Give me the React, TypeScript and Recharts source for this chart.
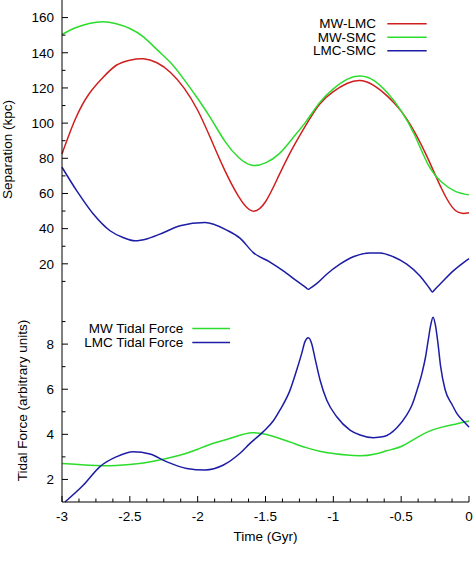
import { LineChart, Line, XAxis, YAxis, Legend, Label } from 'recharts';

const FONT = '"Liberation Sans", Arial, Helvetica, sans-serif';
const RED = '#d01e1e';
const GREEN = '#2cdc2c';
const BLUE = '#1c1ca6';

// ---- top panel: separation (kpc) vs time (Gyr)
// smooth orbits read on an even 0.1 Gyr grid
const gridTime = [-3, -2.9, -2.8, -2.7, -2.6, -2.5, -2.4, -2.3, -2.2, -2.1, -2, -1.9, -1.8, -1.7, -1.6, -1.5, -1.4, -1.3, -1.2, -1.1, -1, -0.9, -0.8, -0.7, -0.6, -0.5, -0.4, -0.3, -0.2, -0.1, 0];
const mwLmcSep = [82.5, 102.6, 116.7, 125.8, 132.9, 135.8, 136.6, 134.3, 128.8, 119.9, 107.3, 90.5, 73.1, 58.5, 50.1, 55.3, 70.4, 85.8, 99.2, 110.9, 117.9, 122.5, 124.2, 121.3, 115.2, 106.8, 94.8, 79.4, 62.4, 50.3, 49.0];
const mwSmcSep = [150.4, 154.2, 156.6, 157.6, 156.5, 153.8, 149.0, 141.8, 134.4, 124.7, 114.0, 102.3, 89.8, 80.6, 76.0, 77.4, 82.5, 91.4, 101.0, 111.8, 119.5, 124.9, 126.8, 124.2, 117.1, 107.0, 93.1, 76.3, 66.4, 61.2, 59.2];

// LMC-SMC has sharp pericentre cusps, so it is read at uneven times
const lmcSmcTime = [-3, -2.892, -2.769, -2.646, -2.55, -2.462, -2.37, -2.278, -2.13, -1.946, -1.786, -1.688, -1.59, -1.467, -1.369, -1.27, -1.204, -1.184, -1.164, -1.123, -1.049, -0.951, -0.853, -0.73, -0.656, -0.558, -0.459, -0.361, -0.29, -0.27, -0.25, -0.214, -0.116, 0];
const lmcSmcSep = [74.9, 61.6, 48.3, 38.8, 35.0, 33.1, 34.3, 36.9, 41.6, 43.5, 39.2, 34.6, 26.4, 21.0, 16.0, 10.3, 6.6, 5.5, 6.5, 8.7, 14.1, 19.8, 24.0, 26.2, 26.2, 24.0, 19.8, 13.1, 6.0, 4.0, 5.6, 8.4, 16.0, 23.0];

// ---- bottom panel: tidal force (arbitrary units)
const mwTide = [2.71, 2.67, 2.63, 2.61, 2.62, 2.66, 2.73, 2.84, 2.97, 3.13, 3.34, 3.57, 3.75, 3.94, 4.07, 4.0, 3.83, 3.62, 3.41, 3.25, 3.15, 3.08, 3.05, 3.12, 3.28, 3.46, 3.8, 4.12, 4.32, 4.45, 4.59];

const lmcTideTime = [-2.978, -2.842, -2.72, -2.597, -2.475, -2.352, -2.23, -2.08, -1.946, -1.81, -1.688, -1.614, -1.516, -1.442, -1.393, -1.319, -1.27, -1.233, -1.209, -1.184, -1.16, -1.135, -1.098, -1.049, -0.975, -0.877, -0.803, -0.705, -0.627, -0.53, -0.46, -0.42, -0.383, -0.345, -0.32, -0.3, -0.282, -0.265, -0.248, -0.23, -0.209, -0.177, -0.123, -0.09, -0.04, 0];
const lmcTide = [1.0, 1.75, 2.57, 3.01, 3.23, 3.13, 2.79, 2.49, 2.42, 2.64, 3.16, 3.6, 4.12, 4.6, 5.08, 5.96, 6.85, 7.59, 8.11, 8.28, 8.03, 7.37, 6.41, 5.52, 4.78, 4.19, 3.97, 3.85, 3.9, 4.3, 4.85, 5.3, 5.96, 6.75, 7.44, 8.2, 8.85, 9.19, 8.85, 8.1, 7.0, 6.0, 5.3, 4.93, 4.58, 4.32];

// ---- ticks
const xMajor = [-3, -2.5, -2, -1.5, -1, -0.5, 0];
const xTicks = [-3, -2.875, -2.75, -2.625, -2.5, -2.375, -2.25, -2.125, -2, -1.875, -1.75, -1.625, -1.5, -1.375, -1.25, -1.125, -1, -0.875, -0.75, -0.625, -0.5, -0.375, -0.25, -0.125, 0];
const sepMajor = [20, 40, 60, 80, 100, 120, 140, 160];
const sepTicks = [10, 20, 30, 40, 50, 60, 70, 80, 90, 100, 110, 120, 130, 140, 150, 160];
const tideMajor = [2, 4, 6, 8];
const tideTicks = [2, 3, 4, 5, 6, 7, 8, 9];

const zip = (t: number[], v: number[]) => t.map((x, i) => ({ t: x, v: v[i] }));

const FS = 13.5;

function xTick(dir: number, label: boolean) {
  return (p: any) => {
    const v = p.payload.value;
    const major = xMajor.includes(v);
    const len = major ? 6 : 3.5;
    return (
      <g>
        <line x1={p.x} x2={p.x} y1={p.y} y2={p.y + dir * len} stroke="#000" />
        {label && major && (
          <text x={p.x} y={p.y + 19} textAnchor="middle" fontSize={FS} fill="#000">{v}</text>
        )}
      </g>
    );
  };
}

function yTick(dir: number, majors: number[], label: boolean) {
  return (p: any) => {
    const v = p.payload.value;
    const major = majors.includes(v);
    const len = major ? 6 : 3.5;
    return (
      <g>
        <line x1={p.x} x2={p.x + dir * len} y1={p.y} y2={p.y} stroke="#000" />
        {label && major && (
          <text x={p.x - 8} y={p.y} dy={4.8} textAnchor="end" fontSize={FS} fill="#000">{v}</text>
        )}
      </g>
    );
  };
}

type Entry = { name: string; color: string };

function LegendSvg({ items, textRight, x1, x2, rows }: { items: Entry[]; textRight: number; x1: number; x2: number; rows: number[] }) {
  return (
    <svg width={474} height={70} style={{ fontFamily: FONT }}>
      {items.map((it, i) => (
        <g key={it.name}>
          <text x={textRight} y={rows[i] + 4.7} textAnchor="end" fontSize={FS} fill="#000">{it.name}</text>
          <line x1={x1} x2={x2} y1={rows[i]} y2={rows[i]} stroke={it.color} strokeWidth={1.5} />
        </g>
      ))}
    </svg>
  );
}

const topLegend: Entry[] = [
  { name: 'MW-LMC', color: RED },
  { name: 'MW-SMC', color: GREEN },
  { name: 'LMC-SMC', color: BLUE },
];
const bottomLegend: Entry[] = [
  { name: 'MW Tidal Force', color: GREEN },
  { name: 'LMC Tidal Force', color: BLUE },
];

// smooth orbits use a natural spline on the even grid, the cusped curves stay monotone
const smooth = { type: 'natural' as const, dataKey: 'v', dot: false, strokeWidth: 1.5, isAnimationActive: false, xAxisId: 'b', yAxisId: 'l' };
const cusped = { ...smooth, type: 'monotone' as const };

export default function App() {
  return (
    <div style={{ position: 'absolute', left: 0, top: 0, width: 474, height: 568, background: '#fff', fontFamily: FONT }}>
      <div style={{ position: 'absolute', left: 0, top: 0 }}>
        <LineChart width={474} height={300} margin={{ top: 0, right: 5, bottom: 1, left: 0 }}>
          <XAxis xAxisId="b" type="number" dataKey="t" domain={[-3, 0]} ticks={xTicks} interval={0} height={0}
            tickSize={0} tickMargin={0} tickLine={false} axisLine={{ stroke: '#000' }} tick={xTick(-1, false)} />
          <XAxis xAxisId="t" orientation="top" type="number" dataKey="t" domain={[-3, 0]} ticks={xTicks} interval={0} height={0}
            tickSize={0} tickMargin={0} tickLine={false} axisLine={{ stroke: '#000' }} tick={xTick(1, false)} />
          <YAxis yAxisId="l" type="number" domain={[0, 170]} ticks={sepTicks} interval={0} width={62}
            tickSize={0} tickMargin={0} tickLine={false} axisLine={{ stroke: '#000' }} tick={yTick(1, sepMajor, true)}>
            <Label content={() => (
              <text x={11.5} y={149.5} textAnchor="middle" fontSize={FS} fill="#000" transform="rotate(-90 11.5 149.5)">Separation (kpc)</text>
            )} />
          </YAxis>
          <YAxis yAxisId="r" orientation="right" type="number" domain={[0, 170]} ticks={sepTicks} interval={0} width={0}
            tickSize={0} tickMargin={0} tickLine={false} axisLine={{ stroke: '#000' }} tick={yTick(-1, sepMajor, false)} />
          <Legend layout="horizontal" verticalAlign="middle" align="center"
            wrapperStyle={{ top: 0, left: 0, width: 474, height: 70 }}
            content={() => <LegendSvg items={topLegend} textRight={376} x1={387.3} x2={426.7} rows={[23.7, 37.2, 50.7]} />} />
          <Line {...smooth} name="MW-LMC" data={zip(gridTime, mwLmcSep)} stroke={RED} />
          <Line {...smooth} name="MW-SMC" data={zip(gridTime, mwSmcSep)} stroke={GREEN} />
          <Line {...cusped} name="LMC-SMC" data={zip(lmcSmcTime, lmcSmcSep)} stroke={BLUE} />
        </LineChart>
      </div>
      <div style={{ position: 'absolute', left: 0, top: 299 }}>
        <LineChart width={474} height={269} margin={{ top: 0, right: 5, bottom: 0, left: 0 }}>
          <XAxis xAxisId="b" type="number" dataKey="t" domain={[-3, 0]} ticks={xTicks} interval={0} height={66}
            tickSize={0} tickMargin={0} tickLine={false} axisLine={{ stroke: '#000' }} tick={xTick(-1, true)}>
            <Label content={() => (
              <text x={265.5} y={242} textAnchor="middle" fontSize={FS} fill="#000">Time (Gyr)</text>
            )} />
          </XAxis>
          <XAxis xAxisId="t" orientation="top" type="number" dataKey="t" domain={[-3, 0]} ticks={xTicks} interval={0} height={0}
            tickSize={0} tickMargin={0} tickLine={false} axisLine={false} tick={xTick(1, false)} />
          <YAxis yAxisId="l" type="number" domain={[1, 10]} ticks={tideTicks} interval={0} width={62}
            tickSize={0} tickMargin={0} tickLine={false} axisLine={{ stroke: '#000' }} tick={yTick(1, tideMajor, true)}>
            <Label content={() => (
              <text x={27} y={101.5} textAnchor="middle" fontSize={FS} fill="#000" transform="rotate(-90 27 101.5)">Tidal Force (arbitrary units)</text>
            )} />
          </YAxis>
          <YAxis yAxisId="r" orientation="right" type="number" domain={[1, 10]} ticks={tideTicks} interval={0} width={0}
            tickSize={0} tickMargin={0} tickLine={false} axisLine={{ stroke: '#000' }} tick={yTick(-1, tideMajor, false)} />
          <Legend layout="horizontal" verticalAlign="middle" align="center"
            wrapperStyle={{ top: 0, left: 0, width: 474, height: 70 }}
            content={() => <LegendSvg items={bottomLegend} textRight={183.3} x1={192.3} x2={230} rows={[29.6, 43.4]} />} />
          <Line {...smooth} name="MW Tidal Force" data={zip(gridTime, mwTide)} stroke={GREEN} />
          <Line {...cusped} name="LMC Tidal Force" data={zip(lmcTideTime, lmcTide)} stroke={BLUE} />
        </LineChart>
      </div>
    </div>
  );
}
